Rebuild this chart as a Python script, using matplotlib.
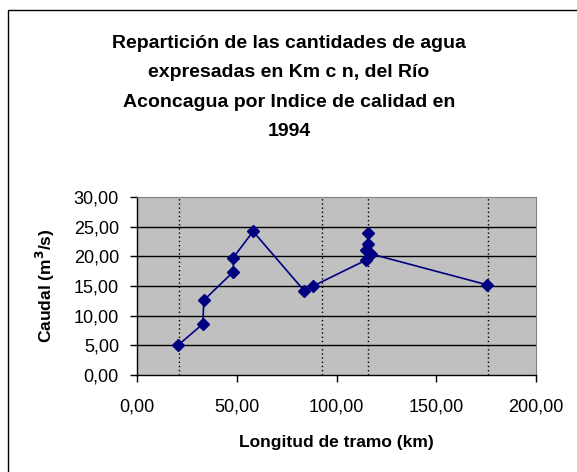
import matplotlib
matplotlib.use("Agg")
import matplotlib.pyplot as plt
from matplotlib.patches import Rectangle
from matplotlib.ticker import FuncFormatter, MultipleLocator


# Longitud de tramo (km) y caudal (m3/s)
longitud = [20.5, 33.0, 33.5, 48.3, 48.3, 58.2, 83.8, 88.3, 115.0, 115.0, 115.8, 115.8, 117.3, 175.5]
caudal = [5.0, 8.6, 12.6, 17.4, 19.8, 24.2, 14.2, 15.0, 19.4, 21.0, 22.0, 24.0, 20.4, 15.2]

# Lineas verticales punteadas (km)
limites = [21.0, 92.5, 116.0, 176.0]

titulo = ("Repartición de las cantidades de agua\n"
          "expresadas en Km c n, del Río\n"
          "Aconcagua por Indice de calidad en\n"
          "1994")


def coma(v, pos):
    return f"{v:.2f}".replace(".", ",")


def main():
    plt.rcParams["font.family"] = ["Liberation Sans", "DejaVu Sans"]

    fig = plt.figure(figsize=(5.77, 4.72), dpi=100)
    # marco exterior: solo se ven los bordes izquierdo y superior
    fig.patches.append(Rectangle((8 / 577, -0.05), 1.1, 1 - 10 / 472 + 0.05,
                                 transform=fig.transFigure, fill=False,
                                 edgecolor="black", linewidth=1))

    ax = fig.add_axes([137 / 577, 1 - 375 / 472, 399 / 577, 178 / 472])
    ax.set_facecolor("#C0C0C0")

    ax.set_xlim(0, 200)
    ax.set_ylim(0, 30)
    ax.xaxis.set_major_locator(MultipleLocator(50))
    ax.yaxis.set_major_locator(MultipleLocator(5))
    ax.xaxis.set_major_formatter(FuncFormatter(coma))
    ax.yaxis.set_major_formatter(FuncFormatter(coma))

    for y in range(5, 30, 5):
        ax.axhline(y, color="black", linewidth=1, zorder=1)
    for x in limites:
        ax.axvline(x, color="black", linewidth=1, linestyle=(0, (1, 2)), zorder=1)

    ax.plot(longitud, caudal, color="#000080", linewidth=1.2, marker="D",
            markersize=6.5, markerfacecolor="#000080", markeredgecolor="#000080", zorder=3)

    for s in ["top", "right"]:
        ax.spines[s].set_color("#808080")
    for s in ["left", "bottom"]:
        ax.spines[s].set_color("black")
        ax.spines[s].set_linewidth(1)

    ax.tick_params(axis="both", direction="out", length=5, width=1,
                   labelsize=13, colors="black", pad=8)
    ax.tick_params(axis="x", pad=12)

    ax.set_xlabel("Longitud de tramo (km)", fontsize=12.5, fontweight="bold", labelpad=14)
    ax.set_ylabel("Caudal (m$^\\mathbf{3}$/s)", fontsize=12.5, fontweight="bold", labelpad=12)

    fig.text(289 / 577, 1 - 87.5 / 472, titulo, ha="center", va="center",
             fontsize=14, fontweight="bold", linespacing=1.97)

    fig.savefig("out.png", dpi=100)
    return 0


if __name__ == "__main__":
    exit(main())
